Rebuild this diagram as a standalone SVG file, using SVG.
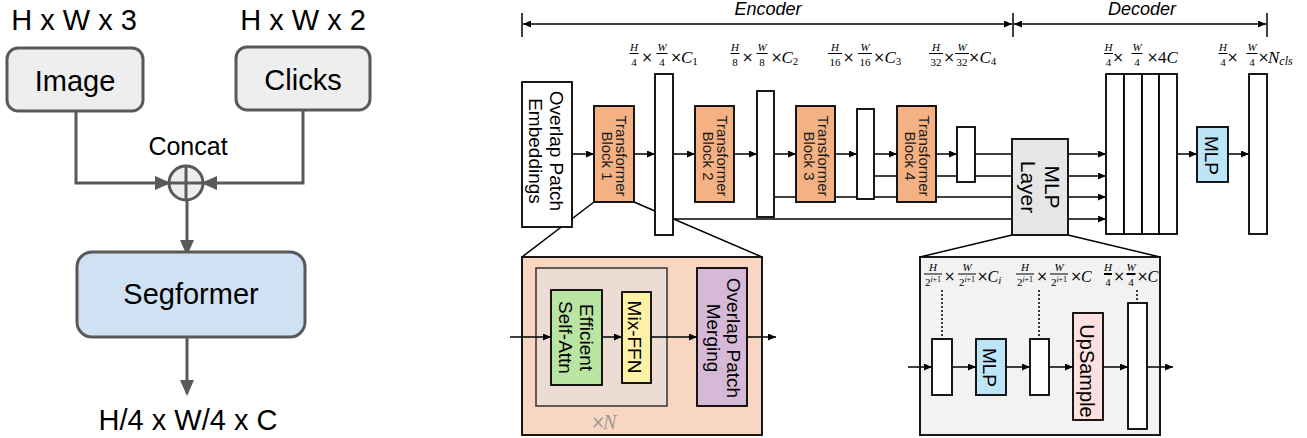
<svg xmlns="http://www.w3.org/2000/svg" width="1307" height="438" viewBox="0 0 1307 438">
<defs>
<marker id="ga" viewBox="0 0 16 14" refX="13" refY="7" markerWidth="16" markerHeight="14" markerUnits="userSpaceOnUse" orient="auto"><path d="M0,0 L16,7 L0,14 z" fill="#595959"/></marker>
<marker id="ba" viewBox="0 0 8 7" refX="8" refY="3.5" markerWidth="8" markerHeight="7" markerUnits="userSpaceOnUse" orient="auto-start-reverse"><path d="M0,0 L8,3.5 L0,7 z" fill="#000"/></marker>
<style>
.g{stroke:#595959;stroke-width:3;fill:none}
.gb{stroke:#595959;stroke-width:3}
.b{stroke:#000;stroke-width:1.8}
.ln{stroke:#000;stroke-width:1.5;fill:none}
.sa{font-family:"Liberation Sans",Arial,sans-serif;fill:#000}
.big{font-size:29px;text-anchor:middle}
.t19{font-size:19px;text-anchor:middle}
.t15{font-size:15px;text-anchor:middle;fill:#1a1a1a}
.m{font-family:"Liberation Serif","Times New Roman",serif;fill:#000}
.num{font-size:11px;font-style:italic;text-anchor:middle}
.den{font-size:11px;text-anchor:middle}
.op{font-family:"DejaVu Sans",sans-serif;font-size:14px;text-anchor:middle;fill:#000}
.mt{font-size:17px}
.it{font-style:italic}
.gray{fill:#999}
.bar{stroke:#000;stroke-width:1}
.dot{stroke:#000;stroke-width:1.5;stroke-dasharray:2 2}
</style>
</defs>
<rect width="1307" height="438" fill="#fff"/>

<!-- left connectors -->
<g id="left-connectors">
<path class="g" d="M76,111 V183 H168" marker-end="url(#ga)"/>
<path class="g" d="M303,110 V183 H204" marker-end="url(#ga)"/>
<path class="g" d="M187,200 V253" marker-end="url(#ga)"/>
<path class="g" d="M187,337 V393" marker-end="url(#ga)"/>
</g>

<g id="lbl-hw3"><text class="sa big" x="74" y="30">H x W x 3</text></g>
<g id="lbl-hw2"><text class="sa big" x="303" y="30">H x W x 2</text></g>
<g id="image"><rect class="gb" x="7" y="48" width="136" height="63" rx="11" fill="#eeeeee"/><text class="sa big" x="75" y="91">Image</text></g>
<g id="clicks"><rect class="gb" x="236" y="47" width="134" height="63" rx="11" fill="#eeeeee"/><text class="sa big" x="303" y="90">Clicks</text></g>
<g id="concat"><text class="sa" x="188" y="155" font-size="25" text-anchor="middle">Concat</text>
<circle class="gb" cx="186" cy="183" r="17" fill="#eeeeee"/>
<line class="g" x1="186" y1="166" x2="186" y2="200"/><line class="g" x1="169" y1="183" x2="203" y2="183"/></g>
<g id="segformer"><rect class="gb" x="77" y="252" width="228" height="85" rx="15" fill="#cfe2f3"/><text class="sa big" x="191" y="304">Segformer</text></g>
<g id="lbl-out"><text class="sa big" x="188" y="430">H/4 x W/4 x C</text></g>

<!-- encoder / decoder headers -->
<g id="headers">
<line class="ln" x1="522" y1="13" x2="522" y2="37"/>
<line class="ln" x1="523" y1="24" x2="1012" y2="24" marker-start="url(#ba)" marker-end="url(#ba)"/>
<line class="ln" x1="1013" y1="13" x2="1013" y2="37"/>
<line class="ln" x1="1014" y1="24" x2="1266" y2="24" marker-start="url(#ba)" marker-end="url(#ba)"/>
<line class="ln" x1="1267" y1="13" x2="1267" y2="37"/>
<text class="sa" x="768" y="15" font-size="18" font-style="italic" text-anchor="middle">Encoder</text>
<text class="sa" x="1142" y="15" font-size="18" font-style="italic" text-anchor="middle">Decoder</text>
</g>

<!-- right connectors -->
<g id="connectors">
<line class="ln" x1="634" y1="202" x2="762" y2="257"/>
<line class="ln" x1="594" y1="202" x2="522" y2="257"/>
<line class="ln" x1="1012" y1="235" x2="920" y2="257"/>
<line class="ln" x1="1068" y1="235" x2="1160" y2="257"/>
<line class="ln" x1="673" y1="219" x2="1012" y2="219"/>
<line class="ln" x1="774" y1="197" x2="1012" y2="197"/>
<line class="ln" x1="874" y1="176" x2="1012" y2="176"/>
<line class="ln" x1="975" y1="154" x2="1012" y2="154"/>
<line class="ln" x1="572" y1="154" x2="594" y2="154" marker-end="url(#ba)"/>
<line class="ln" x1="634" y1="154" x2="655" y2="154" marker-end="url(#ba)"/>
<line class="ln" x1="673" y1="154" x2="695" y2="154" marker-end="url(#ba)"/>
<line class="ln" x1="734" y1="154" x2="757" y2="154" marker-end="url(#ba)"/>
<line class="ln" x1="774" y1="154" x2="796" y2="154" marker-end="url(#ba)"/>
<line class="ln" x1="835" y1="154" x2="857" y2="154" marker-end="url(#ba)"/>
<line class="ln" x1="874" y1="154" x2="897" y2="154" marker-end="url(#ba)"/>
<line class="ln" x1="936" y1="154" x2="957" y2="154" marker-end="url(#ba)"/>
<line class="ln" x1="1068" y1="154" x2="1106" y2="154" marker-end="url(#ba)"/>
<line class="ln" x1="1068" y1="176" x2="1106" y2="176" marker-end="url(#ba)"/>
<line class="ln" x1="1068" y1="197" x2="1106" y2="197" marker-end="url(#ba)"/>
<line class="ln" x1="1068" y1="219" x2="1106" y2="219" marker-end="url(#ba)"/>
<line class="ln" x1="1177" y1="154" x2="1197" y2="154" marker-end="url(#ba)"/>
<line class="ln" x1="1228" y1="154" x2="1249" y2="154" marker-end="url(#ba)"/>
</g>

<g id="patch-embed"><rect class="b" x="522" y="82" width="50" height="145" fill="#fff"/>
<g transform="translate(547,151) rotate(90)"><text class="sa t19" x="0" y="-3">Overlap Patch</text><text class="sa t19" x="0" y="18">Embeddings</text></g></g>

<g id="block1"><rect class="b" x="594" y="106" width="40" height="96" fill="#f4b183"/>
<g transform="translate(614,156) rotate(90)"><text class="sa t15" x="0" y="-2">Transformer</text><text class="sa t15" x="0" y="12">Block 1</text></g></g>
<g id="fm1"><rect class="b" x="655" y="74" width="18" height="161" fill="#fff"/></g>
<g id="block2"><rect class="b" x="695" y="106" width="39" height="96" fill="#f4b183"/>
<g transform="translate(714.5,156) rotate(90)"><text class="sa t15" x="0" y="-2">Transformer</text><text class="sa t15" x="0" y="12">Block 2</text></g></g>
<g id="fm2"><rect class="b" x="757" y="91" width="17" height="126" fill="#fff"/></g>
<g id="block3"><rect class="b" x="796" y="106" width="39" height="96" fill="#f4b183"/>
<g transform="translate(815.5,156) rotate(90)"><text class="sa t15" x="0" y="-2">Transformer</text><text class="sa t15" x="0" y="12">Block 3</text></g></g>
<g id="fm3"><rect class="b" x="857" y="109" width="17" height="90" fill="#fff"/></g>
<g id="block4"><rect class="b" x="897" y="106" width="39" height="96" fill="#f4b183"/>
<g transform="translate(916.5,156) rotate(90)"><text class="sa t15" x="0" y="-2">Transformer</text><text class="sa t15" x="0" y="12">Block 4</text></g></g>
<g id="fm4"><rect class="b" x="957" y="127" width="18" height="55" fill="#fff"/></g>
<g id="mlp-layer"><rect class="b" x="1012" y="139" width="56" height="96" fill="#e6e6e6"/>
<g transform="translate(1040,187) rotate(90)"><text class="sa" font-size="21" text-anchor="middle" x="0" y="-5">MLP</text><text class="sa" font-size="21" text-anchor="middle" x="0" y="19">Layer</text></g></g>
<g id="dec-stack">
<rect class="b" x="1106" y="74" width="18" height="160" fill="#fff"/>
<rect class="b" x="1124" y="74" width="18" height="160" fill="#fff"/>
<rect class="b" x="1142" y="74" width="17" height="160" fill="#fff"/>
<rect class="b" x="1159" y="74" width="18" height="160" fill="#fff"/>
</g>
<g id="dec-mlp"><rect class="b" x="1197" y="127" width="31" height="55" fill="#bde5f8"/>
<g transform="translate(1212.5,155.5) rotate(90)"><text class="sa t19" x="0" y="7.5">MLP</text></g></g>
<g id="dec-out"><rect class="b" x="1249" y="74" width="18" height="160" fill="#fff"/></g>

<!-- top dimension labels -->
<g id="dims-top">
<text class="m num" x="634" y="51">H</text><line class="bar" x1="629.5" y1="53.5" x2="638.5" y2="53.5"/><text class="m den" x="634" y="66">4</text>
<text class="op" x="647" y="62">×</text>
<text class="m num" x="662" y="51">W</text><line class="bar" x1="656.5" y1="53.5" x2="667.5" y2="53.5"/><text class="m den" x="662" y="66">4</text>
<text class="op" x="676" y="62">×</text>
<text class="m mt" x="681" y="63"><tspan class="it">C</tspan><tspan font-size="11" dy="2">1</tspan></text>

<text class="m num" x="735" y="51">H</text><line class="bar" x1="730.5" y1="53.5" x2="739.5" y2="53.5"/><text class="m den" x="735" y="66">8</text>
<text class="op" x="747.5" y="62">×</text>
<text class="m num" x="762" y="51">W</text><line class="bar" x1="756.5" y1="53.5" x2="767.5" y2="53.5"/><text class="m den" x="762" y="66">8</text>
<text class="op" x="776.5" y="62">×</text>
<text class="m mt" x="781.5" y="63"><tspan class="it">C</tspan><tspan font-size="11" dy="2">2</tspan></text>

<text class="m num" x="835" y="51">H</text><line class="bar" x1="828" y1="53.5" x2="842" y2="53.5"/><text class="m den" x="835" y="66">16</text>
<text class="op" x="848.5" y="62">×</text>
<text class="m num" x="865" y="51">W</text><line class="bar" x1="858" y1="53.5" x2="872" y2="53.5"/><text class="m den" x="865" y="66">16</text>
<text class="op" x="879" y="62">×</text>
<text class="m mt" x="884.5" y="63"><tspan class="it">C</tspan><tspan font-size="11" dy="2">3</tspan></text>

<text class="m num" x="936" y="51">H</text><line class="bar" x1="929" y1="53.5" x2="943" y2="53.5"/><text class="m den" x="936" y="66">32</text>
<text class="op" x="949" y="62">×</text>
<text class="m num" x="962" y="51">W</text><line class="bar" x1="955" y1="53.5" x2="969" y2="53.5"/><text class="m den" x="962" y="66">32</text>
<text class="op" x="974" y="62">×</text>
<text class="m mt" x="979.5" y="63"><tspan class="it">C</tspan><tspan font-size="11" dy="2">4</tspan></text>

<text class="m num" x="1108.5" y="51">H</text><line class="bar" x1="1104" y1="53.5" x2="1113" y2="53.5"/><text class="m den" x="1108.5" y="66">4</text>
<text class="op" x="1118" y="62">×</text>
<text class="m num" x="1137" y="51">W</text><line class="bar" x1="1131.5" y1="53.5" x2="1142.5" y2="53.5"/><text class="m den" x="1137" y="66">4</text>
<text class="op" x="1152.5" y="62">×</text>
<text class="m mt" x="1158" y="63">4<tspan class="it">C</tspan></text>

<text class="m num" x="1223" y="51">H</text><line class="bar" x1="1218.5" y1="53.5" x2="1227.5" y2="53.5"/><text class="m den" x="1223" y="66">4</text>
<text class="op" x="1232.5" y="62">×</text>
<text class="m num" x="1252" y="51">W</text><line class="bar" x1="1246.5" y1="53.5" x2="1257.5" y2="53.5"/><text class="m den" x="1252" y="66">4</text>
<text class="op" x="1263.5" y="62">×</text>
<text class="m mt" x="1268" y="63"><tspan class="it">N</tspan><tspan class="it" font-size="12" dy="2">cls</tspan></text>
</g>

<!-- encoder detail -->
<g id="enc-detail">
<rect class="b" x="522" y="257" width="240" height="178" fill="#f9d6c1"/>
<rect x="536" y="268" width="131" height="138" fill="#ecdcd3" stroke="#333" stroke-width="1.5"/>
<text class="op gray" x="598" y="428" style="font-size:17px">×</text>
<text class="m it gray" x="603" y="429" font-size="20">N</text>
<line class="ln" x1="510" y1="337" x2="551" y2="337" marker-end="url(#ba)"/>
<line class="ln" x1="602" y1="337" x2="622" y2="337" marker-end="url(#ba)"/>
<line class="ln" x1="651" y1="337" x2="697" y2="337" marker-end="url(#ba)"/>
<line class="ln" x1="747" y1="337" x2="776" y2="337" marker-end="url(#ba)"/>
</g>
<g id="eff-attn"><rect class="b" x="551" y="290" width="51" height="95" fill="#b9e4a2"/>
<g transform="translate(576.5,337.5) rotate(90)"><text class="sa t19" x="0" y="-3.5">Efficient</text><text class="sa t19" x="0" y="17.5">Self-Attn</text></g></g>
<g id="mix-ffn"><rect class="b" x="622" y="292" width="29" height="91" fill="#fff2a8"/>
<g transform="translate(636.5,337) rotate(90)"><text class="sa t19" x="0" y="8.5">Mix-FFN</text></g></g>
<g id="patch-merge"><rect class="b" x="697" y="268" width="50" height="138" fill="#d6b9d6"/>
<g transform="translate(722,338) rotate(90)"><text class="sa t19" x="0" y="-5">Overlap Patch</text><text class="sa t19" x="0" y="15">Merging</text></g></g>

<!-- decoder detail -->
<g id="dec-detail">
<rect class="b" x="920" y="257" width="240" height="178" fill="#f2f2f2"/>
<line class="dot" x1="942" y1="290" x2="942" y2="339"/>
<line class="dot" x1="1039" y1="290" x2="1039" y2="339"/>
<line class="dot" x1="1137" y1="290" x2="1137" y2="303"/>
<line class="ln" x1="908" y1="367" x2="932" y2="367" marker-end="url(#ba)"/>
<line class="ln" x1="952" y1="367" x2="976" y2="367" marker-end="url(#ba)"/>
<line class="ln" x1="1006" y1="367" x2="1030" y2="367" marker-end="url(#ba)"/>
<line class="ln" x1="1049" y1="367" x2="1073" y2="367" marker-end="url(#ba)"/>
<line class="ln" x1="1103" y1="367" x2="1128" y2="367" marker-end="url(#ba)"/>
<line class="ln" x1="1147" y1="367" x2="1173" y2="367" marker-end="url(#ba)"/>
<text class="m num" x="933" y="271">H</text><line class="bar" x1="924" y1="274" x2="942" y2="274"/><text class="m den" x="933" y="286">2<tspan class="it" font-size="8" dy="-4">i</tspan><tspan font-size="8">+1</tspan></text>
<text class="op" x="949.5" y="281">×</text>
<text class="m num" x="967" y="271">W</text><line class="bar" x1="958" y1="274" x2="976" y2="274"/><text class="m den" x="967" y="286">2<tspan class="it" font-size="8" dy="-4">i</tspan><tspan font-size="8">+1</tspan></text>
<text class="op" x="982.5" y="281">×</text>
<text class="m" x="987.5" y="282" font-size="16"><tspan class="it">C</tspan><tspan class="it" font-size="11" dy="2">i</tspan></text>
<text class="m num" x="1025" y="271">H</text><line class="bar" x1="1016" y1="274" x2="1034" y2="274"/><text class="m den" x="1025" y="286">2<tspan class="it" font-size="8" dy="-4">i</tspan><tspan font-size="8">+1</tspan></text>
<text class="op" x="1042" y="281">×</text>
<text class="m num" x="1059" y="271">W</text><line class="bar" x1="1050" y1="274" x2="1068" y2="274"/><text class="m den" x="1059" y="286">2<tspan class="it" font-size="8" dy="-4">i</tspan><tspan font-size="8">+1</tspan></text>
<text class="op" x="1076" y="281">×</text>
<text class="m it" x="1081" y="282" font-size="16">C</text>
<text class="m num" x="1108" y="271">H</text><line x1="1104" y1="274" x2="1112" y2="274" stroke="#000" stroke-width="2"/><text class="m den" x="1108" y="286">4</text>
<text class="op" x="1119" y="281">×</text>
<text class="m num" x="1131" y="271">W</text><line x1="1126.5" y1="274" x2="1135.5" y2="274" stroke="#000" stroke-width="2"/><text class="m den" x="1131" y="286">4</text>
<text class="op" x="1142.5" y="281">×</text>
<text class="m it" x="1147.5" y="282" font-size="16">C</text>
</g>
<g id="dd-fm1"><rect class="b" x="932" y="339" width="20" height="56" fill="#fff"/></g>
<g id="dd-mlp"><rect class="b" x="976" y="339" width="30" height="56" fill="#bde5f8"/>
<g transform="translate(991,367.5) rotate(90)"><text class="sa t19" x="0" y="8">MLP</text></g></g>
<g id="dd-fm2"><rect class="b" x="1030" y="339" width="19" height="56" fill="#fff"/></g>
<g id="dd-upsample"><rect class="b" x="1073" y="313" width="30" height="107" fill="#fde1e1"/>
<g transform="translate(1088,371) rotate(90)"><text class="sa" font-size="20" text-anchor="middle" x="0" y="8">UpSample</text></g></g>
<g id="dd-fm3"><rect class="b" x="1128" y="303" width="19" height="126" fill="#fff"/></g>
</svg>
